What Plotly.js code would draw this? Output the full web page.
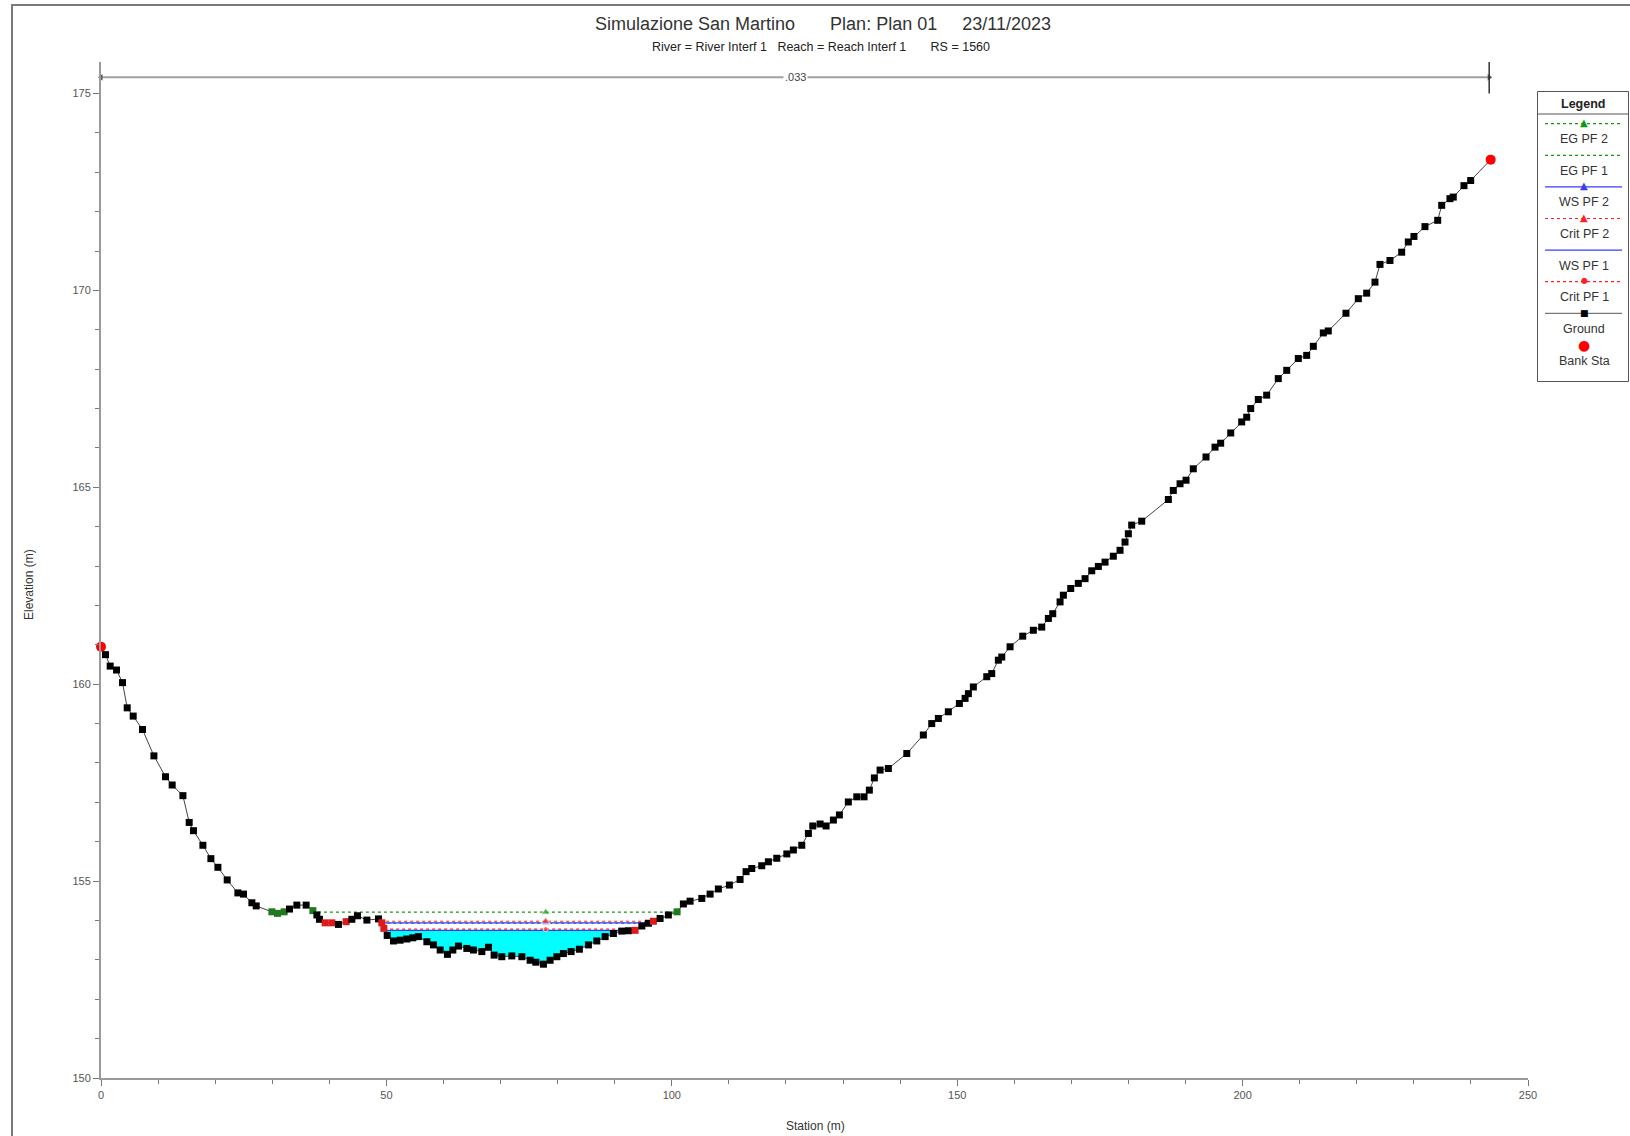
<!DOCTYPE html>
<html><head><meta charset="utf-8">
<script src="https://cdn.plot.ly/plotly-3.0.1.min.js"></script>
<style>html,body{margin:0;padding:0;background:#fff}#chart{width:1630px;height:1136px}</style>
</head><body><div id="chart"></div>
<script>
// ---------------- DATA ----------------
const groundStation = [0,0.79,1.61,2.72,3.77,4.59,5.64,7.27,9.27,11.30,12.47,14.35,15.45,16.20,17.85,19.25,20.48,22.11,23.98,24.96,26.43,27.19,29.94,30.92,32.09,33.02,34.31,35.94,37.12,37.82,38.27,39.27,40.45,41.60,42.95,43.95,44.93,46.58,48.61,49.20,49.55,50.14,51.24,52.41,53.58,54.63,55.61,57.09,58.24,59.42,60.69,61.64,62.62,64.09,65.25,66.72,67.88,68.87,70.22,71.97,73.73,75.18,76.18,77.51,78.68,79.86,81.01,82.36,83.81,85.39,86.86,88.32,89.77,91.24,92.40,93.57,94.75,95.90,96.78,97.95,99.40,100.93,102.03,103.20,105.26,106.71,108.16,110.09,111.96,113.01,114.01,115.76,116.92,118.39,120.15,121.30,122.77,123.93,124.70,125.98,127.03,128.31,129.36,130.93,132.41,133.68,134.61,135.49,136.49,137.94,141.17,144.07,145.54,146.70,148.45,150.38,151.38,151.96,152.83,155.18,156.05,157.21,157.81,159.26,161.48,163.34,164.81,165.97,166.74,168.02,168.60,169.89,171.22,172.40,173.57,174.73,175.90,177.35,178.53,179.40,179.98,180.57,182.33,186.99,187.86,189.04,190.09,191.36,193.59,195.17,196.16,197.92,199.84,200.72,201.42,202.75,204.22,206.25,207.73,209.76,211.23,212.39,214.14,215.01,218.11,220.27,221.74,223.19,224.07,225.82,227.87,229.03,230.02,231.95,234.18,234.88,236.33,236.91,238.78,239.96,243.46];
const groundElevation = [160.95,160.75,160.46,160.36,160.04,159.40,159.19,158.85,158.18,157.65,157.44,157.17,156.49,156.28,155.91,155.57,155.35,155.03,154.70,154.67,154.45,154.37,154.22,154.18,154.22,154.29,154.39,154.39,154.25,154.14,154.03,153.94,153.94,153.90,153.97,154.03,154.12,154.01,154.04,153.94,153.80,153.62,153.48,153.50,153.53,153.56,153.59,153.46,153.38,153.25,153.14,153.25,153.35,153.29,153.25,153.21,153.32,153.12,153.08,153.10,153.08,152.99,152.94,152.89,152.99,153.08,153.16,153.21,153.27,153.38,153.48,153.59,153.67,153.73,153.74,153.75,153.86,153.93,153.98,154.05,154.14,154.22,154.42,154.49,154.56,154.67,154.80,154.90,155.04,155.24,155.32,155.39,155.49,155.58,155.69,155.79,155.91,156.21,156.40,156.45,156.40,156.55,156.68,157.01,157.14,157.14,157.31,157.62,157.82,157.86,158.24,158.71,159.00,159.13,159.30,159.51,159.64,159.76,159.93,160.19,160.27,160.61,160.69,160.95,161.22,161.37,161.45,161.67,161.79,162.09,162.26,162.43,162.56,162.68,162.88,162.99,163.10,163.25,163.40,163.61,163.82,164.04,164.14,164.69,164.92,165.09,165.18,165.47,165.77,166.02,166.12,166.38,166.66,166.78,167.00,167.23,167.34,167.76,167.97,168.27,168.35,168.58,168.92,168.97,169.42,169.79,169.93,170.21,170.66,170.76,170.97,171.23,171.37,171.62,171.78,172.16,172.33,172.37,172.66,172.79,173.32];

const bankStation = [0, 243.46];
const bankElevation = [160.95, 173.32];

const profileNames = ['EG PF 2', 'EG PF 1', 'WS PF 2', 'Crit PF 2', 'WS PF 1', 'Crit PF 1'];
const profileElevation = [154.21, 153.93, 153.94, 153.98, 153.75, 153.78];
const profileLeftStation = [38.0, 49.1, 49.1, 48.9, 49.7, 49.6];
const profileRightStation = [100.7, 96.0, 96.1, 96.8, 93.6, 94.0];
const profileMarkerStation = 77.9;

const nValueLabel = '.033';
const nValueStation = [0, 243.2];
const nValueElevation = 175.41;

const xTickValues = [0, 50, 100, 150, 200, 250];
const yTickValues = [150, 155, 160, 165, 170, 175];

const titleText = 'Simulazione San Martino\u00a0\u00a0\u00a0\u00a0\u00a0\u00a0\u00a0Plan: Plan 01\u00a0\u00a0\u00a0\u00a0\u00a023/11/2023';
const subtitleText = 'River = River Interf 1\u00a0\u00a0\u00a0Reach = Reach Interf 1\u00a0\u00a0\u00a0\u00a0\u00a0\u00a0\u00a0RS = 1560';

// ---------------- STYLES ----------------
const GREEN = '#129912', BLUE = '#3a3aff', RED = '#ff2020';
const profileStyle = {
  'EG PF 2':   {color: GREEN, dash: 'dot',   symbol: 'triangle-up', size: 8, glyph: '\u25B2', gsize: 10},
  'EG PF 1':   {color: GREEN, dash: 'dot',   symbol: 'circle', size: 0, glyph: '', gsize: 0},
  'WS PF 2':   {color: BLUE,  dash: 'solid', symbol: 'triangle-up', size: 8, glyph: '\u25B2', gsize: 10},
  'Crit PF 2': {color: RED,   dash: 'dot',   symbol: 'triangle-up', size: 8, glyph: '\u25B2', gsize: 10},
  'WS PF 1':   {color: BLUE,  dash: 'solid', symbol: 'circle', size: 0, glyph: '', gsize: 0},
  'Crit PF 1': {color: RED,   dash: 'dot',   symbol: 'circle', size: 5, glyph: '\u25CF', gsize: 8}
};
const greenHighlight = [29.94, 30.92, 32.09, 37.12, 100.93];
const redHighlight = [39.27, 40.45, 42.95, 49.20, 49.55, 93.57, 96.78];

// ---------------- GEOMETRY (pixels -> paper) ----------------
const W = 1630, H = 1136, ML = 101, MR = 102, MT = 62, MB = 58;
const PL = ML, PR = W - MR, PT = MT, PB = H - MB;
const px = x => (x - PL) / (PR - PL);
const py = y => (PB - y) / (PB - PT);

// ---------------- TRACES ----------------
const traces = [];

// water fill below WS PF 1
const wsIdx = profileNames.indexOf('WS PF 1');
const wsEl = profileElevation[wsIdx];
const fx = [profileLeftStation[wsIdx]], fy = [wsEl];
groundStation.forEach((s, i) => {
  if (s > profileLeftStation[wsIdx] && s < profileRightStation[wsIdx]) { fx.push(s); fy.push(groundElevation[i]); }
});
fx.push(profileRightStation[wsIdx]); fy.push(wsEl);
traces.push({x: fx, y: fy, type: 'scatter', mode: 'lines', fill: 'toself', fillcolor: '#00ffff',
  line: {width: 0, color: '#00ffff'}, hoverinfo: 'skip'});

// profile lines
const drawOrder = ['WS PF 1', 'Crit PF 1', 'EG PF 1', 'WS PF 2', 'Crit PF 2', 'EG PF 2'];
drawOrder.forEach(name => {
  const i = profileNames.indexOf(name);
  const st = profileStyle[name];
  traces.push({
    x: [profileLeftStation[i], profileMarkerStation, profileRightStation[i]],
    y: [profileElevation[i], profileElevation[i], profileElevation[i]],
    type: 'scatter', mode: 'lines+markers', name: name,
    line: {color: st.color, dash: st.dash, width: 1.2},
    marker: {symbol: st.symbol, size: [0, st.size, 0], color: st.color},
    hoverinfo: 'skip'
  });
});

// ground
const groundColors = groundStation.map(s =>
  greenHighlight.includes(s) ? '#1f7a1f' : (redHighlight.includes(s) ? '#e01818' : '#000000'));
traces.push({x: groundStation, y: groundElevation, type: 'scatter', mode: 'lines+markers', name: 'Ground',
  line: {color: '#444444', width: 1}, marker: {symbol: 'square', size: 7, color: groundColors},
  cliponaxis: false, hoverinfo: 'skip'});

// bank stations
traces.push({x: bankStation, y: bankElevation, type: 'scatter', mode: 'markers', name: 'Bank Sta',
  marker: {symbol: 'circle', size: 10, color: '#ff0000'}, cliponaxis: false, hoverinfo: 'skip'});

// Manning's n extent
traces.push({x: nValueStation, y: [nValueElevation, nValueElevation], type: 'scatter', mode: 'lines+markers',
  line: {color: '#a0a0a0', width: 2}, marker: {symbol: ['triangle-left', 'triangle-right'], size: 6, color: '#555'},
  cliponaxis: false, hoverinfo: 'skip'});
traces.push({x: [nValueStation[1], nValueStation[1]], y: [175.0, 175.8], type: 'scatter', mode: 'lines',
  line: {color: '#333', width: 1.5}, cliponaxis: false, hoverinfo: 'skip'});

// ---------------- LAYOUT ----------------
const FONT = 'Liberation Sans, Arial, sans-serif';
const shapes = [
  {type: 'rect', xref: 'paper', yref: 'paper', x0: px(12), x1: px(1700), y0: py(1200), y1: py(5),
   line: {color: '#7a7a7a', width: 2}, fillcolor: 'rgba(0,0,0,0)', layer: 'below'},
  {type: 'rect', xref: 'paper', yref: 'paper', x0: px(1537.5), x1: px(1628.5), y0: py(381.5), y1: py(91.5),
   line: {color: '#555', width: 1}, fillcolor: '#fff'},
  {type: 'line', xref: 'paper', yref: 'paper', x0: px(1537.5), x1: px(1628.5), y0: py(114), y1: py(114),
   line: {color: '#555', width: 1}}
];
const annotations = [
  {text: titleText, xref: 'paper', yref: 'paper', x: px(823), y: py(24), xanchor: 'center', yanchor: 'middle',
   showarrow: false, font: {family: FONT, size: 18, color: '#333'}},
  {text: subtitleText, xref: 'paper', yref: 'paper', x: px(821), y: py(47), xanchor: 'center', yanchor: 'middle',
   showarrow: false, font: {family: FONT, size: 12.5, color: '#222'}},
  {text: 'Station (m)', xref: 'paper', yref: 'paper', x: px(815), y: py(1126), xanchor: 'center', yanchor: 'middle',
   showarrow: false, font: {family: FONT, size: 12, color: '#333'}},
  {text: 'Elevation (m)', xref: 'paper', yref: 'paper', x: px(29), y: py(585), xanchor: 'center', yanchor: 'middle',
   textangle: -90, showarrow: false, font: {family: FONT, size: 12, color: '#333'}},
  {text: nValueLabel, xref: 'x', yref: 'y', x: (nValueStation[0] + nValueStation[1]) / 2, y: nValueElevation,
   xanchor: 'center', yanchor: 'middle', showarrow: false, bgcolor: '#fff', borderpad: 1,
   font: {family: FONT, size: 11, color: '#444'}},
  {text: '<b>Legend</b>', xref: 'paper', yref: 'paper', x: px(1583), y: py(104), xanchor: 'center', yanchor: 'middle',
   showarrow: false, font: {family: FONT, size: 12.5, color: '#222'}}
];

// legend items
const legendItems = profileNames.concat(['Ground', 'Bank Sta']);
const legendX0 = 1545, legendX1 = 1622, legendCX = 1584;
legendItems.forEach((name, k) => {
  const symY = 123.7 + k * 31.6;
  const txtY = symY + 15.6;
  if (profileStyle[name]) {
    const st = profileStyle[name];
    shapes.push({type: 'line', xref: 'paper', yref: 'paper', x0: px(legendX0), x1: px(legendX1), y0: py(symY), y1: py(symY),
      line: {color: st.color, width: 1.2, dash: st.dash}});
    if (st.glyph) annotations.push({text: st.glyph, xref: 'paper', yref: 'paper', x: px(legendCX), y: py(symY - 1),
      xanchor: 'center', yanchor: 'middle', showarrow: false, font: {family: 'DejaVu Sans', size: st.gsize, color: st.color}});
  } else if (name === 'Ground') {
    shapes.push({type: 'line', xref: 'paper', yref: 'paper', x0: px(legendX0), x1: px(legendX1), y0: py(symY), y1: py(symY),
      line: {color: '#555', width: 1}});
    annotations.push({text: '\u25A0', xref: 'paper', yref: 'paper', x: px(legendCX), y: py(symY), xanchor: 'center', yanchor: 'middle',
      showarrow: false, font: {family: 'DejaVu Sans', size: 9, color: '#000'}});
  } else {
    annotations.push({text: '\u25CF', xref: 'paper', yref: 'paper', x: px(legendCX), y: py(symY), xanchor: 'center', yanchor: 'middle',
      showarrow: false, font: {family: 'DejaVu Sans', size: 14, color: '#ff0000'}});
  }
  annotations.push({text: name, xref: 'paper', yref: 'paper', x: px(legendCX), y: py(txtY), xanchor: 'center', yanchor: 'middle',
    showarrow: false, font: {family: FONT, size: 12.5, color: '#333'}});
});

const axisCommon = {
  showline: true, linecolor: '#9a9a9a', linewidth: 2, showgrid: false, zeroline: false,
  ticks: 'outside', ticklen: 6, tickwidth: 1, tickcolor: '#777',
  tickfont: {family: FONT, size: 11, color: '#555'}
};
const layout = {
  width: W, height: H, autosize: false,
  margin: {l: ML, r: MR, t: MT, b: MB, pad: 0},
  paper_bgcolor: '#fff', plot_bgcolor: '#fff',
  showlegend: false, hovermode: false,
  font: {family: FONT},
  xaxis: Object.assign({}, axisCommon, {range: [0, 250], tickvals: xTickValues, ticktext: xTickValues.map(String),
    minor: {dtick: 10, tick0: 0, ticks: 'outside', ticklen: 4, tickcolor: '#777', showgrid: false}}),
  yaxis: Object.assign({}, axisCommon, {range: [150, 175.8], tickvals: yTickValues, ticktext: yTickValues.map(String),
    minor: {dtick: 1, tick0: 150, ticks: 'outside', ticklen: 4, tickcolor: '#777', showgrid: false}}),
  shapes: shapes,
  annotations: annotations
};

Plotly.newPlot('chart', traces, layout, {staticPlot: true, displayModeBar: false});
</script>
</body></html>
